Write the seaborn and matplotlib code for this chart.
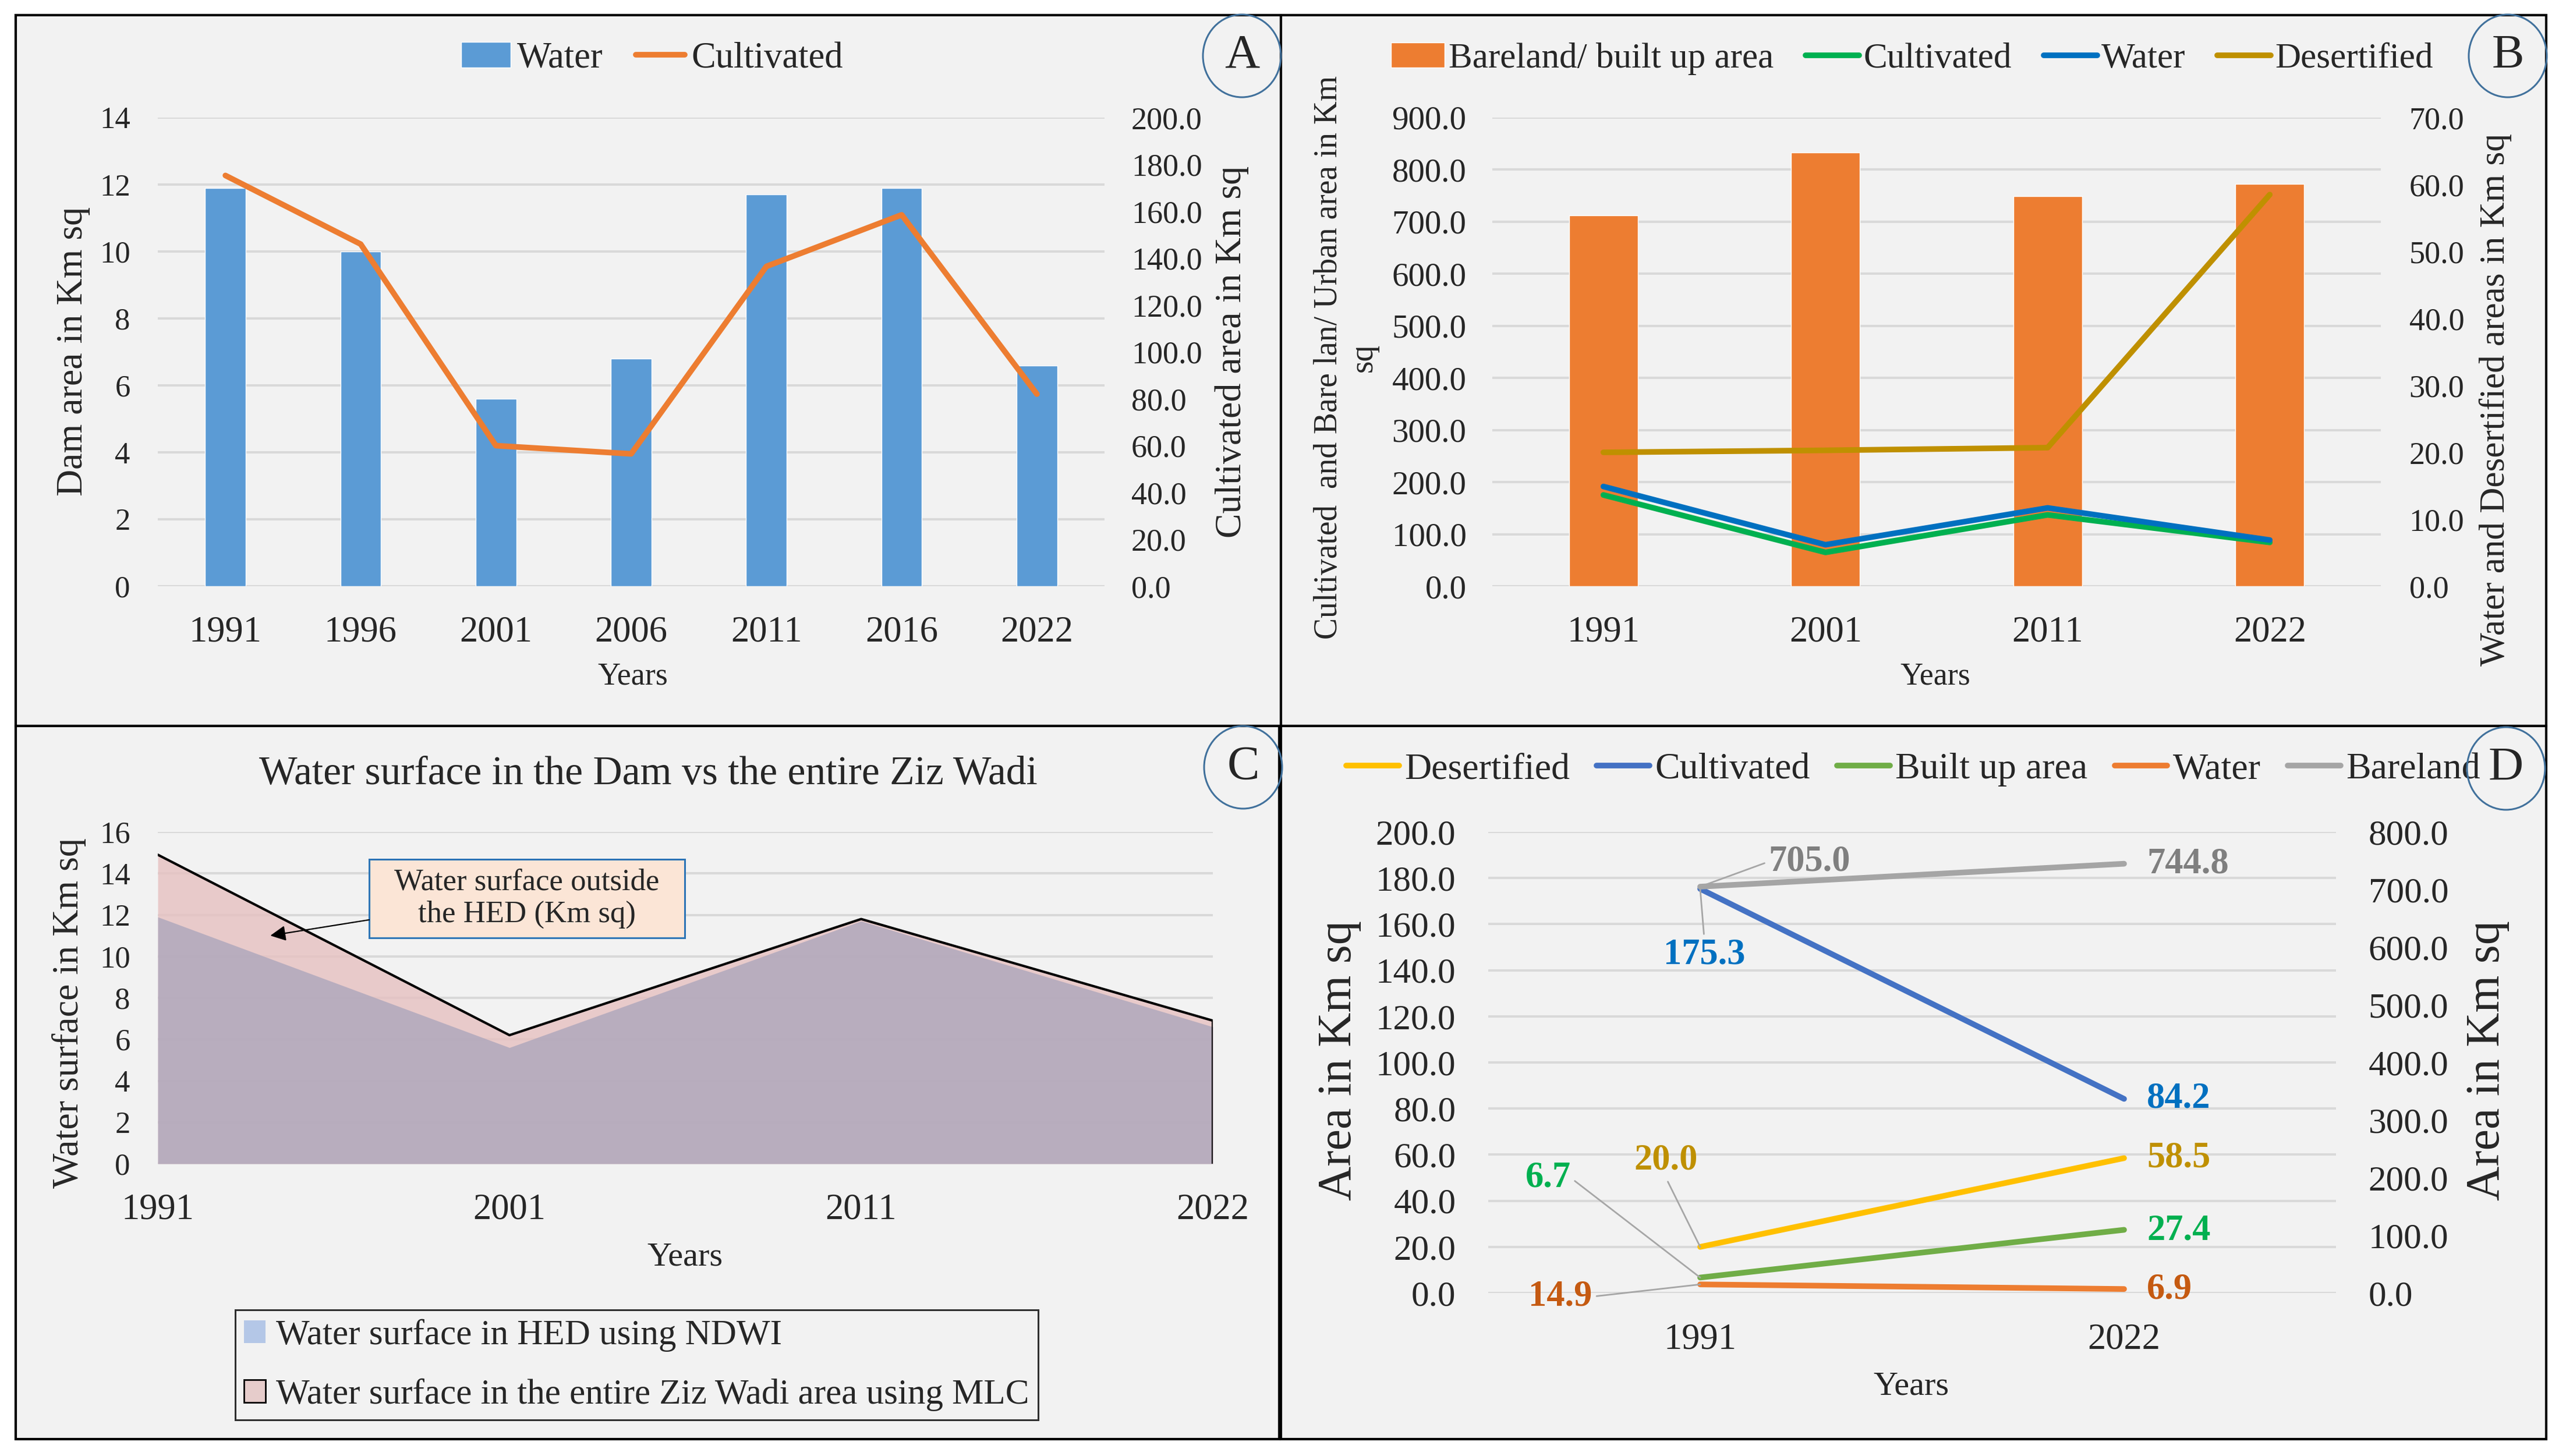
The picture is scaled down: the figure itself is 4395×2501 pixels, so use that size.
import numpy as np
import matplotlib
matplotlib.use('Agg')
import matplotlib.pyplot as plt
from matplotlib.patches import Rectangle, Ellipse, Patch
from matplotlib.lines import Line2D
import seaborn as sns

# ---- data ----
# A: dam water surface (bars) and cultivated area (line)
years_a = ['1991', '1996', '2001', '2006', '2011', '2016', '2022']
dam_water_a = [11.9, 10.0, 5.6, 6.8, 11.7, 11.9, 6.6]
cultivated_a = [175.3, 146.0, 60.0, 56.5, 136.5, 158.5, 82.0]

# B: whole Ziz Wadi classes
years_b = ['1991', '2001', '2011', '2022']
bareland_b = [711.7, 833.0, 749.0, 772.2]
cultivated_b = [175.3, 65.0, 137.0, 84.2]
water_b = [14.9, 6.2, 11.7, 6.9]
desertified_b = [20.0, 20.3, 20.7, 58.5]

# C: water surface, dam (NDWI) vs whole wadi (MLC)
years_c = ['1991', '2001', '2011', '2022']
ndwi_c = [11.9, 5.6, 11.7, 6.6]
mlc_c = [14.9, 6.2, 11.8, 6.9]

# D: 1991 vs 2022
years_d = ['1991', '2022']
desertified_d = [20.0, 58.5]
cultivated_d = [175.3, 84.2]
builtup_d = [6.7, 27.4]
water_d = [14.9, 6.9]
bareland_d = [705.0, 744.8]

sns.set_theme(style='white')
plt.rcParams['font.family'] = ['Liberation Serif', 'DejaVu Serif']

W, H = 4395, 2501
fig = plt.figure(figsize=(W / 100, H / 100), dpi=100, facecolor='white')


def fx(x):
    return x / W


def fy(y):
    return 1 - y / H


def add_ax(l, t, r, b):
    return fig.add_axes([fx(l), fy(b), (r - l) / W, (b - t) / H])


def panel(l, t, r, b):
    fig.patches.append(Rectangle((fx(l), fy(b)), (r - l) / W, (b - t) / H,
                                 transform=fig.transFigure, fc='#f2f2f2',
                                 ec='black', lw=3, zorder=-5))


def badge(x, y, letter):
    fig.patches.append(Ellipse((fx(x), fy(y)), 134 / W, 142 / H,
                               transform=fig.transFigure, fc='none',
                               ec='#41719c', lw=2.2, zorder=20))
    fig.text(fx(x), fy(y), letter, ha='center', va='center', fontsize=60, zorder=21)


def clean(ax, grid=True):
    ax.patch.set_visible(False)
    for s in ax.spines.values():
        s.set_visible(False)
    ax.tick_params(length=0)
    ax.grid(False)
    if grid:
        ax.yaxis.grid(True, color='#d9d9d9', lw=2.9)
        ax.set_axisbelow(True)
    if ax.get_legend() is not None:
        ax.get_legend().remove()


def ylab(ax, text, x, y, size):
    ax.set_ylabel(text, fontsize=size, va='center', ha='center', multialignment='center')
    ax.yaxis.set_label_coords(fx(x), fy(y), transform=fig.transFigure)


def xlab(ax, text, x, y, size):
    ax.set_xlabel(text, fontsize=size, va='center')
    ax.xaxis.set_label_coords(fx(x), fy(y), transform=fig.transFigure)


def fmt1(ticks):
    return [f'{t:.1f}' for t in ticks]


# ================= Panel A =================
panel(27, 26, 2200, 1247)
ax = add_ax(271, 202, 1897, 1007)
sns.barplot(x=years_a, y=dam_water_a, ax=ax, color='#5b9bd5', saturation=1, width=0.3)
ax2 = ax.twinx()
sns.lineplot(x=np.arange(len(years_a)), y=cultivated_a, ax=ax2, color='#ed7d31', lw=7)
ax.set_xlim(-0.5, len(years_a) - 0.5)
ax.set_ylim(0, 14)
ax.set_yticks(np.arange(0, 15, 2))
ax2.set_ylim(0, 200)
ax2.set_yticks(np.arange(0, 201, 20))
ax2.set_yticklabels(fmt1(np.arange(0, 201, 20)))
clean(ax)
clean(ax2, grid=False)
ax.tick_params(axis='y', labelsize=38, pad=34)
ax.tick_params(axis='x', labelsize=45, pad=36)
ax2.tick_params(axis='y', labelsize=39, pad=33)
ylab(ax, 'Dam area in Km sq', 126, 604, 46)
ylab(ax2, 'Cultivated area in Km sq', 2116, 604, 46)
xlab(ax, 'Years', 1087, 1162, 39)
fig.legend([Patch(fc='#5b9bd5'), Line2D([], [], color='#ed7d31', lw=7)],
           ['Water', 'Cultivated'], loc='center', bbox_to_anchor=(fx(1120), fy(101)),
           ncol=2, frameon=False, fontsize=45, handlelength=1.35,
           handletextpad=0.18, columnspacing=0.9)
badge(2133, 96, 'A')

# ================= Panel B =================
panel(2200, 26, 4373, 1247)
ax = add_ax(2563, 202, 4089, 1007)
sns.barplot(x=years_b, y=bareland_b, ax=ax, color='#ed7d31', saturation=1, width=0.31)
xb = np.arange(len(years_b))
sns.lineplot(x=xb, y=cultivated_b, ax=ax, color='#00b050', lw=7)
ax2 = ax.twinx()
sns.lineplot(x=xb, y=water_b, ax=ax2, color='#0070c0', lw=7)
sns.lineplot(x=xb, y=desertified_b, ax=ax2, color='#bf9000', lw=7)
ax.set_xlim(-0.5, len(years_b) - 0.5)
ax.set_ylim(0, 900)
ax.set_yticks(np.arange(0, 901, 100))
ax.set_yticklabels(fmt1(np.arange(0, 901, 100)))
ax2.set_ylim(0, 70)
ax2.set_yticks(np.arange(0, 71, 10))
ax2.set_yticklabels(fmt1(np.arange(0, 71, 10)))
clean(ax)
clean(ax2, grid=False)
ax.tick_params(axis='y', labelsize=41, pad=32)
ax.tick_params(axis='x', labelsize=45, pad=36)
ax2.tick_params(axis='y', labelsize=39, pad=35)
ylab(ax, 'Cultivated  and Bare lan/ Urban area in Km\nsq', 2312, 614, 40)
ylab(ax2, 'Water and Desertified areas in Km sq', 4286, 687, 44)
xlab(ax, 'Years', 3324, 1162, 39)
fig.legend([Patch(fc='#ed7d31'), Line2D([], [], color='#00b050', lw=7),
            Line2D([], [], color='#0070c0', lw=7), Line2D([], [], color='#bf9000', lw=7)],
           ['Bareland/ built up area', 'Cultivated', 'Water', 'Desertified'],
           loc='center', bbox_to_anchor=(fx(3284), fy(101)), ncol=4, frameon=False,
           fontsize=44, handlelength=1.5, handletextpad=0.12, columnspacing=0.9)
badge(4307, 96, 'B')

# ================= Panel C =================
panel(27, 1247, 2197, 2472)
ax = add_ax(271, 1429, 2083, 1999)
xc = np.arange(len(years_c))
ax.fill_between(xc, mlc_c, color='#e6c1c0', alpha=0.8, lw=0)
ax.fill_between(xc, ndwi_c, color='#ada6bc', alpha=0.8, lw=0)
sns.lineplot(x=xc, y=mlc_c, ax=ax, color='black', lw=3)
ax.vlines(xc[-1], 0, mlc_c[-1], color='black', lw=3)
ax.set_xlim(0, len(years_c) - 1)
ax.set_ylim(0, 16)
ax.set_yticks(np.arange(0, 17, 2))
ax.set_xticks(xc)
ax.set_xticklabels(years_c)
clean(ax)
ax.tick_params(axis='y', labelsize=38, pad=34)
ax.tick_params(axis='x', labelsize=45, pad=36)
ylab(ax, 'Water surface in Km sq', 119, 1740, 46)
xlab(ax, 'Years', 1176, 2159, 42)
ax.set_title('Water surface in the Dam vs the entire Ziz Wadi', fontsize=50, pad=0,
             x=(1113 - 271) / 1812, y=(1999 - 1330) / 570, va='center')
# callout box pointing at the gap between the two areas
box_l, box_t, box_r, box_b = 634, 1476, 1176, 1611
ax.add_patch(Rectangle((fx(box_l), fy(box_b)), (box_r - box_l) / W, (box_b - box_t) / H,
                       transform=fig.transFigure, fc='#fbe5d6', ec='#2e75b6',
                       lw=2.2, clip_on=False, zorder=6))
ax.text(fx((box_l + box_r) / 2), fy((box_t + box_b) / 2), 'Water surface outside\nthe HED (Km sq)',
        transform=fig.transFigure, ha='center', va='center', fontsize=38, zorder=7)
tip_x = 0.32
tip_y = np.interp(tip_x, xc, (np.array(mlc_c) + np.array(ndwi_c)) / 2)
ax.annotate('', xy=(tip_x, tip_y), xytext=(fx(box_l), fy(1580)), textcoords='figure fraction',
            arrowprops=dict(arrowstyle='-|>', color='black', lw=1.6, mutation_scale=40,
                            shrinkA=0, shrinkB=0), zorder=7)
leg = fig.legend([Patch(fc='#b4c7e7', ec='none'), Patch(fc='#e6cccb', ec='black', lw=2)],
                 ['Water surface in HED using NDWI',
                  'Water surface in the entire Ziz Wadi area using MLC'],
                 loc='upper left', bbox_to_anchor=(fx(404), fy(2250)), frameon=True,
                 fancybox=False, fontsize=44, handlelength=0.6, handleheight=0.6,
                 handletextpad=0.3, labelspacing=0.75, borderpad=0.25, borderaxespad=0)
leg.get_frame().set_edgecolor('black')
leg.get_frame().set_linewidth(2.2)
leg.get_frame().set_facecolor('none')
badge(2135, 1318, 'C')

# ================= Panel D =================
panel(2200, 1247, 4373, 2472)
ax = add_ax(2556, 1429, 4012, 2221)
xd = np.arange(len(years_d))
cols_d = {'Desertified': '#ffc000', 'Cultivated': '#4472c4', 'Built up area': '#70ad47',
          'Water': '#ed7d31', 'Bareland': '#a5a5a5'}
sns.lineplot(x=xd, y=desertified_d, ax=ax, color=cols_d['Desertified'], lw=7, solid_capstyle='round')
sns.lineplot(x=xd, y=cultivated_d, ax=ax, color=cols_d['Cultivated'], lw=7, solid_capstyle='round')
sns.lineplot(x=xd, y=builtup_d, ax=ax, color=cols_d['Built up area'], lw=7, solid_capstyle='round')
ax2 = ax.twinx()
sns.lineplot(x=xd, y=water_d, ax=ax2, color=cols_d['Water'], lw=7, solid_capstyle='round')
sns.lineplot(x=xd, y=bareland_d, ax=ax2, color=cols_d['Bareland'], lw=7, solid_capstyle='round')
ax.set_xlim(-0.5, len(years_d) - 0.5)
ax.set_xticks(xd)
ax.set_xticklabels(years_d)
ax.set_ylim(0, 200)
ax.set_yticks(np.arange(0, 201, 20))
ax.set_yticklabels(fmt1(np.arange(0, 201, 20)))
ax2.set_ylim(0, 800)
ax2.set_yticks(np.arange(0, 801, 100))
ax2.set_yticklabels(fmt1(np.arange(0, 801, 100)))
clean(ax)
clean(ax2, grid=False)
ax.tick_params(axis='y', labelsize=44, pad=40)
ax.tick_params(axis='x', labelsize=45, pad=37)
ax2.tick_params(axis='y', labelsize=44, pad=40)
ylab(ax, 'Area in Km sq', 2300, 1822, 59)
ylab(ax2, 'Area in Km sq', 4272, 1822, 59)
xlab(ax, 'Years', 3282, 2382, 42)


def value_label(axis, i, vals, color, dx, dy, ha='center', lead=None):
    kw = {}
    if lead is not None:
        kw['arrowprops'] = dict(arrowstyle='-', color='#a6a6a6', lw=2,
                                shrinkA=3, shrinkB=0, relpos=lead)
    axis.annotate(f'{vals[i]:.1f}', xy=(xd[i], vals[i]), xytext=(dx, -dy),
                  textcoords='offset pixels', ha=ha, va='center', fontsize=45,
                  fontweight='bold', color=color, zorder=8, **kw)


# 1991 labels with leader lines
value_label(ax2, 0, bareland_d, '#7f7f7f', 188, -43, lead=(0, 0.5))
value_label(ax, 0, cultivated_d, '#0070c0', 7, 114, lead=(0.5, 1))
value_label(ax, 0, desertified_d, '#bf9000', -59, -148, lead=(0.5, 0))
value_label(ax, 0, builtup_d, '#00b050', -261, -171, lead=(1, 0.5))
value_label(ax2, 0, water_d, '#c55a11', -240, 21, lead=(1, 0.5))
# 2022 labels to the right of the line ends
value_label(ax2, 1, bareland_d, '#7f7f7f', 39, 1, ha='left')
value_label(ax, 1, cultivated_d, '#0070c0', 39, 0, ha='left')
value_label(ax, 1, desertified_d, '#bf9000', 39, 0, ha='left')
value_label(ax, 1, builtup_d, '#00b050', 39, 2, ha='left')
value_label(ax2, 1, water_d, '#c55a11', 39, 1, ha='left')

fig.legend([Line2D([], [], color=c, lw=7, solid_capstyle='round') for c in cols_d.values()],
           list(cols_d.keys()), loc='center', bbox_to_anchor=(fx(3286), fy(1322)), ncol=5,
           frameon=False, fontsize=46, handlelength=1.42, handletextpad=0.15,
           columnspacing=0.72)
badge(4304, 1320, 'D')

fig.savefig('out.png', dpi=100, facecolor='white')
